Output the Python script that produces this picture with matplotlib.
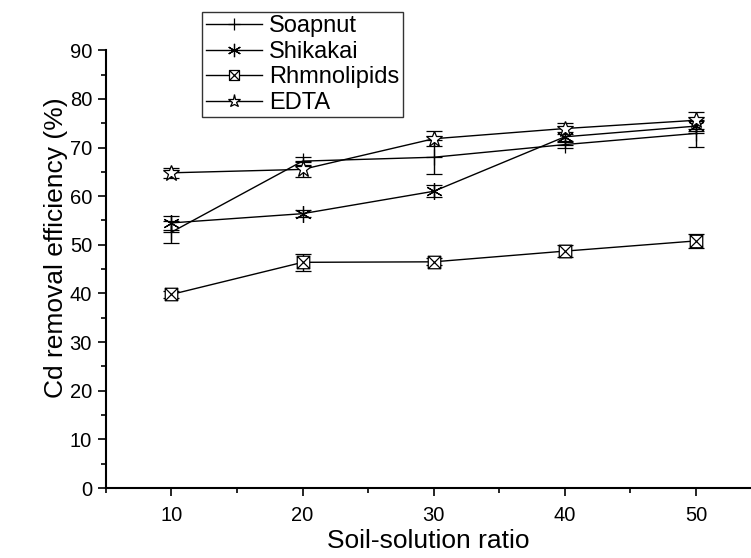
import numpy as np
import matplotlib
matplotlib.use('Agg')
import matplotlib.pyplot as plt
from matplotlib.path import Path
from matplotlib.lines import Line2D
from matplotlib.ticker import MultipleLocator

plt.rcParams['font.family'] = ['Liberation Sans', 'DejaVu Sans']

# --- данные ---
ratio = [10, 20, 30, 40, 50]
soapnut = [52.6, 67.2, 68.0, 70.6, 72.9]
soapnut_err = [2.2, 0.8, 3.5, 0.8, 2.8]
shikakai = [54.5, 56.4, 61.0, 72.2, 74.4]
shikakai_err = [1.5, 0.7, 1.2, 1.0, 1.0]
rhamno = [39.8, 46.4, 46.5, 48.7, 50.8]
rhamno_err = [0.8, 1.8, 0.7, 1.3, 1.5]
edta = [64.8, 65.5, 71.8, 73.9, 75.6]
edta_err = [1.0, 1.5, 1.5, 1.2, 1.7]

# квадрат с крестом внутри
box_x = Path([(-1, -1), (1, -1), (1, 1), (-1, 1), (-1, -1),
              (-1, -1), (1, 1), (-1, 1), (1, -1)],
             [Path.MOVETO, Path.LINETO, Path.LINETO, Path.LINETO, Path.CLOSEPOLY,
              Path.MOVETO, Path.LINETO, Path.MOVETO, Path.LINETO])

series = [
    ("Soapnut", soapnut, soapnut_err, '+', 11),
    ("Shikakai", shikakai, shikakai_err, (6, 2, 0), 12),
    ("Rhmnolipids", rhamno, rhamno_err, box_x, 9),
    ("EDTA", edta, edta_err, '*', 12),
]

fig = plt.figure(figsize=(7.51, 5.58), dpi=100)
ax = fig.add_axes([0.141, 0.1254, 0.859, 0.7846])

handles = []
for name, vals, err, mk, ms in series:
    ax.errorbar(ratio, vals, yerr=err, color='black', lw=1.0, elinewidth=1.0,
                capsize=5.5, capthick=1.0, marker=mk, markersize=ms,
                markerfacecolor='white', markeredgecolor='black',
                markeredgewidth=0.9)
    handles.append(Line2D([], [], color='black', lw=1.0, marker=mk,
                          markersize=ms * 0.8, markerfacecolor='white',
                          markeredgecolor='black', markeredgewidth=0.9,
                          label=name))

ax.set_xlim(5, 54.2)
ax.set_ylim(0, 90)
ax.xaxis.set_major_locator(MultipleLocator(10))
ax.xaxis.set_minor_locator(MultipleLocator(5))
ax.yaxis.set_major_locator(MultipleLocator(10))
ax.yaxis.set_minor_locator(MultipleLocator(5))
ax.tick_params(which='major', direction='out', length=6, width=1.2, labelsize=14.5)
ax.tick_params(which='minor', direction='out', length=3.5, width=1.2)
ax.tick_params(axis='x', pad=7)
ax.tick_params(axis='y', pad=4)

for s in ['top', 'right']:
    ax.spines[s].set_visible(False)
for s in ['left', 'bottom']:
    ax.spines[s].set_linewidth(1.5)

ax.set_xlabel('Soil-solution ratio', fontsize=19, labelpad=3)
ax.set_ylabel('Cd removal efficiency (%)', fontsize=19)
ax.yaxis.set_label_coords(-0.058, 0.548)

leg = ax.legend(handles=handles, loc='upper left', bbox_to_anchor=(0.269, 0.979),
                bbox_transform=fig.transFigure, fontsize=17, frameon=True,
                fancybox=False, edgecolor='black', handlelength=2.4,
                handletextpad=0.3, borderpad=0.15, labelspacing=0.15,
                borderaxespad=0)
leg.get_frame().set_linewidth(1.0)

fig.savefig('out.png', dpi=100)
